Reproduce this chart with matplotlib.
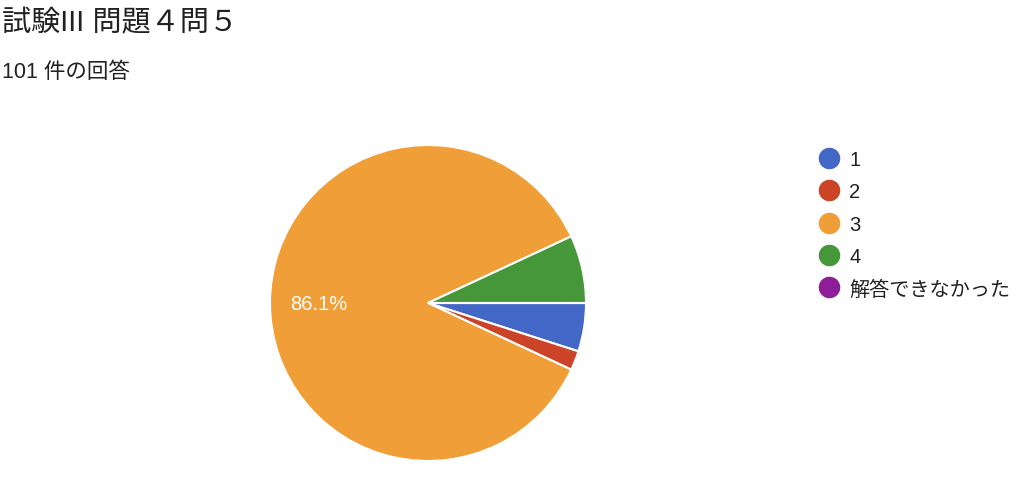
import matplotlib.pyplot as plt
from matplotlib.lines import Line2D

plt.rcParams['font.family'] = ['Liberation Sans', 'Noto Sans CJK JP', 'DejaVu Sans']

# data
labels = ["1", "2", "3", "4", "解答できなかった"]
counts = [5, 2, 87, 7, 0]
colors = ["#4267c6", "#cb4427", "#f09e38", "#46963a", "#8e1e97"]
title = "試験III 問題４問５"
subtitle = "101 件の回答"

fig = plt.figure(figsize=(10.24, 4.81), dpi=100)

# pie centred at (428, 304) px, radius 158 px
W, H = 1024, 481
cx, cy, r = 428, 304, 158
ax = fig.add_axes([(cx - r) / W, (H - cy - r) / H, 2 * r / W, 2 * r / H])

def pct(p):
    return "%.1f%%" % p if p > 20 else ""

wedges, texts, autotexts = ax.pie(
    counts, colors=colors, startangle=0, counterclock=False,
    autopct=pct, pctdistance=0.69, radius=1,
    wedgeprops=dict(edgecolor="white", linewidth=1.5),
    textprops=dict(color="white", fontsize=14.5))
ax.set_xlim(-1, 1)
ax.set_ylim(-1, 1)
ax.set_aspect("equal")
ax.axis("off")

fig.text(2 / W, 1 - 23 / H, title, fontsize=21, color="#212121", va="center", ha="left")
fig.text(2 / W, 1 - 73 / H, subtitle, fontsize=15.5, color="#212121", va="center", ha="left")

handles = [Line2D([], [], marker="o", linestyle="", markersize=14.5,
                  markerfacecolor=c, markeredgecolor=c) for c in colors]
fig.legend(handles, labels, loc="upper left", bbox_to_anchor=(799 / W, 1 - 133 / H),
           frameon=False, fontsize=14.5, labelspacing=0.66, handletextpad=0.4,
           handlelength=1.2, labelcolor="#212121")

fig.savefig("out.png", dpi=100)
